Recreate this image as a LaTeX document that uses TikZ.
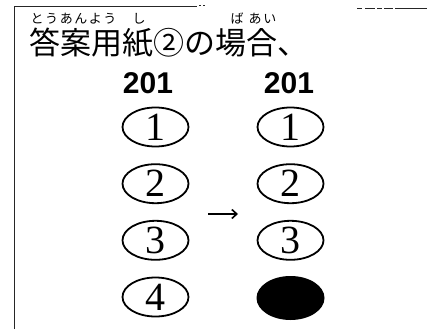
\documentclass[tikz,border=0pt]{standalone}
\usepackage{fontspec}
\usetikzlibrary{arrows.meta,shapes.geometric}
\newfontfamily\jp{Noto Sans CJK JP}
\newfontfamily\jpruby{Noto Sans CJK JP}[LetterSpace=12]
\newfontfamily\labfont{Liberation Sans}
\newfontfamily\digfont{Liberation Serif}
\begin{document}
\begin{tikzpicture}[x=1pt,y=-1pt,
  frame/.style={line width=1.3pt, black!85},
  bubble/.style={draw, ellipse, line width=1.8pt, minimum width=66pt, minimum height=39pt, inner sep=0pt,
    font=\digfont\fontsize{40}{40}\selectfont},
  filledbubble/.style={fill, ellipse, minimum width=68pt, minimum height=44pt, inner sep=0pt},
  numlabel/.style={anchor=base, inner sep=0pt, font=\labfont\bfseries\fontsize{30}{30}\selectfont},
  rubytext/.style={inner sep=0pt, font=\jpruby\fontsize{13}{13}\selectfont},
  titletext/.style={anchor=base west, inner sep=0pt, font=\jp\fontsize{31}{31}\selectfont},
  arrowline/.style={line width=1.6pt, -{Straight Barb[length=5pt,width=9pt]}}
]
\useasboundingbox (0,0) rectangle (427,329);
% frame
\draw[frame] (14.5,329) -- (14.5,6.5) -- (197,6.5);
\draw[frame, line width=1pt] (199,6) -- (201,6) (203,6) -- (205,6);
\draw[frame, line width=1.8pt] (357,8.5) -- (362,8.5) (365,8.5) -- (375,8.5) (377,8.5) -- (382,8.5) (384,8.5) -- (393,8.5) (395,8.5) -- (427,8.5);
% title with ruby
\node[titletext] (title) at (29.5,54) {答案用紙②の場合、};
\node[rubytext, anchor=base west] (ru1) at (30.5,24) {とうあんよう};
\node[rubytext, anchor=base] (ru2) at (139,24) {し};
\node[rubytext, anchor=base] (ru3) at (237,24) {ば};
\node[rubytext, anchor=base] (ru4) at (262.5,24) {あい};
% column headers
\node[numlabel] (lh) at (148,93) {201};
\node[numlabel] (rh) at (289,93) {201};
% left column
\node[bubble] (l1) at (155.5,127) {1};
\node[bubble] (l2) at (155.5,183.7) {2};
\node[bubble] (l3) at (155.5,240.3) {3};
\node[bubble] (l4) at (155.5,297) {4};
% right column
\node[bubble] (r1) at (290.5,127) {1};
\node[bubble] (r2) at (290.5,183.7) {2};
\node[bubble] (r3) at (290.5,240.3) {3};
\node[filledbubble] (r4) at (290.5,298) {};
% arrow
\coordinate (as) at (208,214);
\coordinate (ae) at (238,214);
\draw[arrowline] (as) -- (ae);
\end{tikzpicture}
\end{document}
